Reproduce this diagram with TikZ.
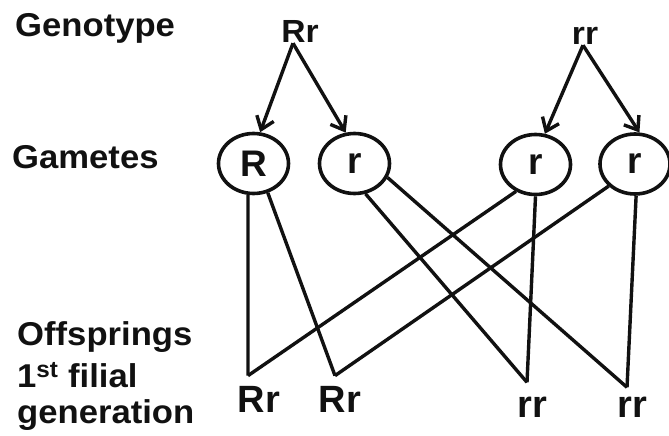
\documentclass[tikz,border=0pt]{standalone}
\usepackage{fontspec}
\setmainfont{Liberation Sans}
\newfontfamily\gnwide[FakeStretch=1.05]{Liberation Sans Bold}
\newfontfamily\gnbold{Liberation Sans Bold}
\usetikzlibrary{arrows.meta,shapes.geometric}
\definecolor{gnink}{HTML}{111111}
\tikzset{
  gn text/.style={text=gnink},
  gn row/.style={font=\gnwide\fontsize{33}{39}\selectfont, inner sep=0pt, anchor=base west},
  gn parent/.style={font=\gnwide\fontsize{32}{38}\selectfont, inner sep=0pt, anchor=base},
  gn gamete/.style={ellipse, draw=gnink, line width=3.6pt, minimum width=70pt,
    minimum height=60pt, inner sep=0pt, font=\gnbold\fontsize{37}{44}\selectfont},
  gn child/.style={font=\gnbold\fontsize{38}{46}\selectfont, inner sep=0pt, anchor=base},
  gn arrow/.style={-{Straight Barb[length=12pt,width=18pt]}, line width=3.4pt, draw=gnink},
  gn line/.style={line width=3.4pt, draw=gnink}
}
\begin{document}
\begin{tikzpicture}[gn text, x=1pt, y=-1pt]
  \useasboundingbox (0,0) rectangle (669,436);
  \node[gn row] (genotype) at (15,37) {Genotype};
  \node[gn row] (gametes) at (12,168) {Gametes};
  \node[gn row] (offspring) at (17,345) {Offsprings};
  \node[gn row] (filial) at (17,387) {1\textsuperscript{st} filial};
  \node[gn row] (generation) at (17,423) {generation};
  \node[gn parent] (Rr) at (300,43) {Rr};
  \node[gn parent] (rr) at (585,45) {rr};
  \node[gn gamete] (gR) at (253.5,163.5) {R};
  \node[gn gamete] (gr1) at (354.5,163.5) {r};
  \node[gn gamete] (gr2) at (535.5,164.5) {r};
  \node[gn gamete] (gr3) at (635,164) {r};
  \node[gn child] (oRr1) at (259,412) {Rr};
  \node[gn child] (oRr2) at (340,412) {Rr};
  \node[gn child] (orr1) at (532,417) {rr};
  \node[gn child] (orr2) at (632,417) {rr};
  \coordinate (j1) at ([xshift=-11pt,yshift=10pt]oRr1.north);
  \coordinate (j2) at ([xshift=-5pt,yshift=10pt]oRr2.north);
  \coordinate (j3) at ([xshift=-5pt,yshift=14pt]orr1.north);
  \coordinate (j4) at ([xshift=-5pt,yshift=9pt]orr2.north);
  \draw[gn arrow] ([xshift=-7pt]Rr.south) -- (gR.78);
  \draw[gn arrow] ([xshift=-7pt]Rr.south) -- (gr1.106);
  \draw[gn arrow] ([xshift=-2pt]rr.south) -- (gr2.73);
  \draw[gn arrow] ([xshift=-2pt]rr.south) -- (gr3.82);
  \draw[gn line] (gR.260) -- (j1);
  \draw[gn line] (gR.296) -- (j2);
  \draw[gn line] (gr1.290) -- (j3);
  \draw[gn line] (gr1.337) -- (j4);
  \draw[gn line] (gr2.234) -- (j1);
  \draw[gn line] (gr2.270) -- (j3);
  \draw[gn line] (gr3.220) -- (j2);
  \draw[gn line] (gr3.272) -- (j4);
\end{tikzpicture}
\end{document}
